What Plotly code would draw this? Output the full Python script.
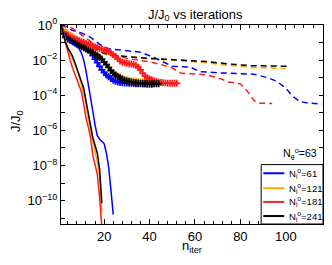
import plotly.graph_objects as go
import numpy as np

# log10(J/J0) values
colors = {"61": "#0000ff", "121": "#ffa500", "181": "#ff1a1a", "241": "#000000"}
labels = ["61", "121", "181", "241"]

# solid (fast) curves, iteration 1..N
solid_61 = [0, -0.4, -0.7, -0.85, -0.95, -1.0, -1.1, -1.2, -1.35, -1.6, -2.0, -2.6, -3.3, -4.1,
            -4.9, -5.7, -6.3, -6.5, -6.6, -6.75, -7.3, -8.1, -9.4, -10.8]
solid_121 = [0, -0.45, -0.95, -1.35, -1.65, -1.9, -2.2, -2.55, -2.9, -3.4, -3.9, -4.5, -5.3,
             -5.9, -6.6, -7.2, -7.8, -8.6, -10.66]
solid_181 = [0, -0.5, -1.1, -1.6, -2.0, -2.4, -2.75, -3.1, -3.45, -3.8, -4.5, -5.3, -5.8, -6.4,
             -7.4, -8.0, -8.5, -9.8, -11.5]
solid_241 = [0, -0.5, -1.0, -1.3, -1.55, -1.75, -2.1, -2.5, -2.8, -3.2, -3.6, -4.3, -5.1, -5.7,
             -6.4, -6.8, -7.3, -8.2, -10.15]

# marker curves, iteration 1..N
mark_61 = [0, -0.4, -0.5, -0.55, -0.62, -0.7, -0.78, -0.85, -0.95, -1.05, -1.15, -1.25, -1.4,
           -1.55, -1.75, -1.95, -2.15, -2.35, -2.55, -2.7, -2.85, -2.95, -3.05, -3.15, -3.2,
           -3.25, -3.27, -3.29, -3.3, -3.3, -3.31, -3.32, -3.33, -3.34, -3.35, -3.35, -3.36,
           -3.36, -3.37, -3.37, -3.37]
mark_121 = [0, -0.3, -0.4, -0.45, -0.55, -0.65, -0.75, -0.85, -0.95, -1.05, -1.15, -1.25, -1.35,
            -1.43, -1.52, -1.6, -1.7, -1.8, -1.95, -2.1, -2.25, -2.4, -2.55, -2.7, -2.8, -2.9,
            -2.98, -3.05, -3.09, -3.12, -3.15, -3.17, -3.19, -3.21, -3.22, -3.24, -3.26, -3.28,
            -3.29, -3.3, -3.31, -3.32, -3.33, -3.33]
mark_181 = [0, -0.4, -0.52, -0.6, -0.68, -0.75, -0.8, -0.85, -0.9, -0.95, -1.0, -1.05, -1.1,
            -1.15, -1.2, -1.25, -1.3, -1.35, -1.38, -1.42, -1.45, -1.52, -1.6, -1.7, -1.8, -1.92,
            -2.05, -2.12, -2.15, -2.18, -2.2, -2.22, -2.25, -2.3, -2.4, -2.55, -2.75, -2.9, -3.0,
            -3.07, -3.12, -3.17, -3.21, -3.25, -3.27, -3.29, -3.3, -3.31, -3.31, -3.32, -3.32,
            -3.32]
mark_241 = [0, -0.5, -0.7, -0.8, -0.87, -0.95, -1.03, -1.1, -1.17, -1.24, -1.3, -1.37, -1.44,
            -1.5, -1.58, -1.67, -1.75, -1.85, -1.95, -2.1, -2.25, -2.42, -2.6, -2.73, -2.85,
            -2.93, -3.0, -3.08, -3.15, -3.19, -3.22, -3.25, -3.27, -3.29, -3.3, -3.31, -3.32,
            -3.32, -3.33, -3.33, -3.34, -3.34, -3.35, -3.35]

# dashed (slow) curves: (iteration, log10 value)
dash_61_n = [1, 3, 6, 10, 14, 18, 22, 30, 36, 42, 46, 50, 58, 62, 70, 80, 86, 92, 96, 100, 103,
             106, 110, 116]
dash_61 = [0, -0.1, -0.3, -0.45, -0.7, -1.1, -1.35, -1.45, -1.55, -1.85, -2.1, -2.35, -2.4,
           -2.65, -2.72, -2.75, -2.8, -3.0, -3.2, -3.6, -4.05, -4.35, -4.45, -4.5]
dash_121_n = [1, 3, 6, 10, 15, 20, 25, 30, 40, 50, 55, 65, 75, 85, 100]
dash_121 = [0, -0.45, -0.7, -0.95, -1.3, -1.6, -1.72, -1.8, -1.92, -2.0, -2.05, -2.15, -2.3,
            -2.42, -2.47]
dash_181_n = [1, 5, 10, 15, 20, 25, 30, 35, 40, 45, 50, 54, 60, 65, 70, 75, 80, 83, 86, 88, 94]
dash_181 = [0, -0.1, -0.55, -1.0, -1.5, -1.7, -1.9, -2.0, -2.1, -2.25, -2.45, -2.75, -2.8,
            -2.83, -3.0, -3.25, -3.35, -3.75, -4.3, -4.45, -4.47]
dash_241_n = [1, 3, 6, 10, 15, 20, 25, 30, 40, 50, 55, 65, 75, 85, 102]
dash_241 = [0, -0.45, -0.7, -0.95, -1.3, -1.62, -1.72, -1.8, -1.9, -1.98, -2.02, -2.08, -2.22,
            -2.32, -2.35]

solids = [solid_61, solid_121, solid_181, solid_241]
marks = [mark_61, mark_121, mark_181, mark_241]
dashes = [(dash_61_n, dash_61), (dash_121_n, dash_121), (dash_181_n, dash_181),
          (dash_241_n, dash_241)]

ytick_exp = list(range(0, -12, -1))
ytick_text = [("10<sup>%d</sup>" % e).replace("-", "−") if e % 2 == 0 else "" for e in ytick_exp]

fig = go.Figure()
for lab, (n, v) in zip(labels, dashes):
    fig.add_trace(go.Scatter(x=n, y=10 ** np.array(v, float), mode="lines",
                             line=dict(color=colors[lab], width=1.5, dash="6px,4px"),
                             showlegend=False))
for lab, v in zip(labels, marks):
    fig.add_trace(go.Scatter(x=list(range(1, len(v) + 1)), y=10 ** np.array(v, float),
                             mode="lines+markers",
                             line=dict(color=colors[lab], width=1.2),
                             marker=dict(symbol="cross-thin", size=5,
                                         line=dict(color=colors[lab], width=1.7)),
                             showlegend=False))
for lab, v in zip(labels, solids):
    fig.add_trace(go.Scatter(x=list(range(1, len(v) + 1)), y=10 ** np.array(v, float),
                             mode="lines", line=dict(color=colors[lab], width=1.5),
                             showlegend=False))

# hand-placed legend box (paper coordinates) matching the reference layout
shapes = [dict(type="rect", xref="paper", yref="paper", x0=0.764, x1=1.0, y0=0.0, y1=0.2985,
               fillcolor="white", line=dict(color="black", width=1), layer="above")]
annotations = []
legend_y = [0.255, 0.18, 0.111, 0.040]
for lab, yy in zip(labels, legend_y):
    shapes.append(dict(type="line", xref="paper", yref="paper", x0=0.772, x1=0.852,
                       y0=yy, y1=yy, line=dict(color=colors[lab], width=2), layer="above"))
    annotations.append(dict(text="N<sub>i</sub><sup>o</sup>=" + lab, x=0.862, y=yy,
                            xref="paper", yref="paper", xanchor="left", yanchor="middle",
                            showarrow=False, font=dict(size=9.5)))

annotations += [
    dict(text="N<sub>θ</sub><sup>o</sup>=63", x=0.985, y=0.35,
         xref="paper", yref="paper", xanchor="right", yanchor="middle",
         showarrow=False, font=dict(size=10.5)),
    dict(text="n<sub>iter</sub>", x=0.5, y=-0.112, xref="paper", yref="paper",
         xanchor="center", yanchor="middle", showarrow=False, font=dict(size=13)),
    dict(text="J/J<sub>0</sub>", x=-0.172, y=0.517, xref="paper", yref="paper",
         xanchor="center", yanchor="middle", textangle=-90, showarrow=False,
         font=dict(size=13)),
]

# the page body adds an 8px offset, so the figure is 8px smaller on each side
fig.update_layout(
    width=324, height=257,
    margin=dict(l=53, r=8, t=15, b=41),
    plot_bgcolor="white", paper_bgcolor="white",
    font=dict(family="Liberation Sans, Arial, sans-serif", size=13, color="black"),
    title=dict(text="J/J<sub>0</sub> vs iterations", x=0.578, xanchor="center",
               y=0.976, yanchor="middle", font=dict(size=13)),
    showlegend=False,
    shapes=shapes,
    annotations=annotations,
)
fig.update_xaxes(range=[1, 116.4], showline=True, linecolor="black", linewidth=1,
                 mirror="ticks", ticks="inside", ticklen=5, tickcolor="black",
                 tickvals=[20, 40, 60, 80, 100], showgrid=False, zeroline=False,
                 minor=dict(tickvals=[4, 8, 12, 16, 24, 28, 32, 36, 44, 48, 52, 56, 64, 68,
                                      72, 76, 84, 88, 92, 96, 104, 108, 112, 116],
                            ticks="inside", ticklen=3, tickcolor="black"),
                 tickfont=dict(size=13))
fig.update_yaxes(type="log", range=[-11.33, 0.0], showline=True, linecolor="black",
                 linewidth=1, mirror="ticks", ticks="inside", ticklen=4, tickcolor="black",
                 tickvals=[10.0 ** e for e in ytick_exp], ticktext=ytick_text,
                 showgrid=False, zeroline=False, tickfont=dict(size=13))

fig.write_html("out.html")
